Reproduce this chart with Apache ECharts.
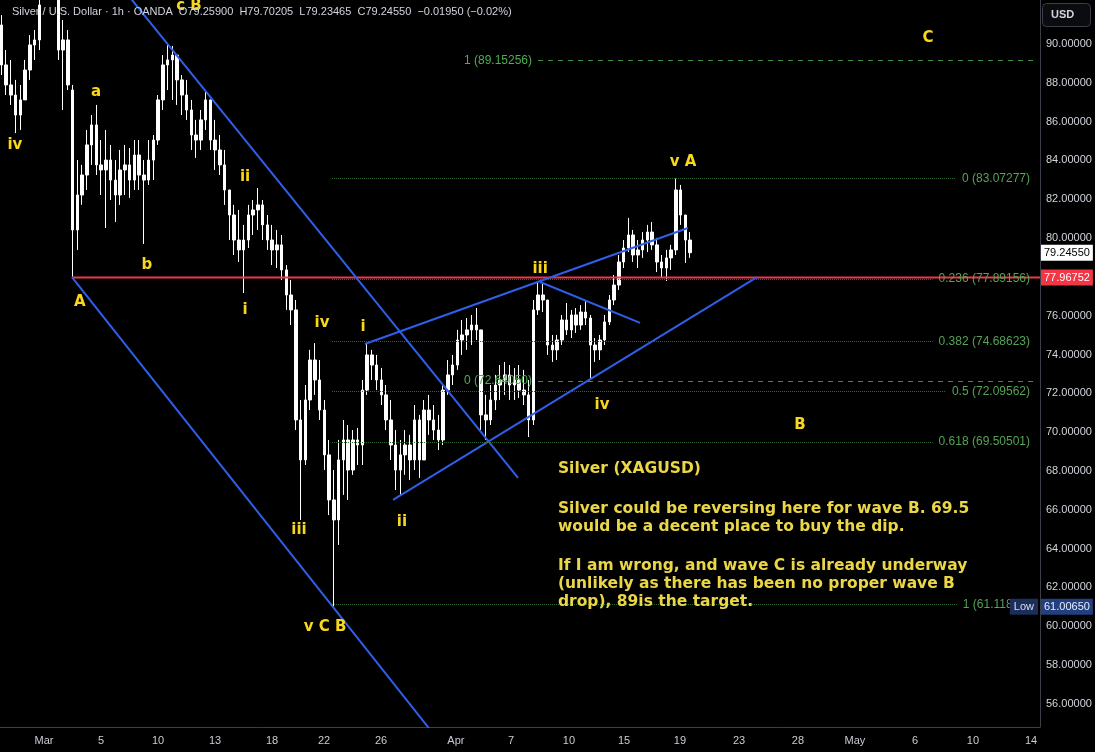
<!DOCTYPE html>
<html><head><meta charset="utf-8">
<script src="https://cdn.jsdelivr.net/npm/echarts@6/dist/echarts.min.js"></script>
<style>html,body{margin:0;padding:0;background:#000;}#c{width:1095px;height:752px;}</style>
</head><body><div id="c"></div>
<script>
// ---- time axis (trading-day units, Mar 2 session = 0) ----
const firstBarDay = -2.25;
const barStep = 0.25;
const dayTicks = [0, 3.0, 6.0, 9.0, 12.0, 14.74, 17.74, 21.68, 24.58, 27.63, 30.53, 33.47, 36.58, 39.68, 42.68, 45.84, 48.89, 51.95];
const dayTickLabels = ['Mar','5','10','13','18','22','26','Apr','7','10','15','19','23','28','May','6','10','14'];
const priceTicks = [56,58,60,62,64,66,68,70,72,74,76,80,82,84,86,88,90];

// ---- price bars [open, close, low, high] ----
const ohlc = [
[90.98,88.92,88.40,91.49],[88.92,87.89,87.37,89.69],[87.89,87.37,86.86,89.18],[87.37,86.34,85.41,88.15],
[86.34,87.12,85.57,87.89],[87.12,88.66,87.12,89.18],[88.66,89.95,88.15,90.46],[89.95,90.21,89.18,90.72],
[90.21,92.01,89.69,93.00],[92.60,93.40,92.40,94.00],[93.40,93.00,92.60,94.50],[93.00,92.50,92.30,93.80],
[92.40,89.69,89.18,92.60],[89.69,90.21,86.60,91.24],[90.21,87.89,87.63,90.72],[87.63,80.42,77.97,87.89],
[80.42,82.22,79.39,84.02],[82.22,83.25,81.71,83.77],[83.25,84.80,82.48,85.57],[84.80,85.83,83.77,86.34],
[85.83,83.77,83.25,86.86],[83.77,83.51,82.22,85.05],[83.51,84.02,80.52,85.57],[84.02,82.99,81.96,84.80],
[82.99,82.22,80.83,84.02],[82.22,83.51,81.71,84.54],[83.51,83.77,82.22,84.80],[83.77,82.99,82.07,84.64],
[82.99,84.28,82.48,85.05],[84.28,83.25,82.48,85.05],[83.25,82.99,79.70,84.02],[82.99,84.02,82.74,85.05],
[84.02,85.05,82.99,85.31],[85.05,87.12,84.80,87.37],[87.12,88.92,86.60,89.43],[88.92,89.18,87.63,89.95],
[89.18,89.43,87.12,89.90],[89.43,88.15,86.86,89.43],[88.15,87.37,86.34,88.40],[87.37,86.60,86.09,88.15],
[86.60,85.31,84.54,87.12],[85.31,85.05,84.13,86.09],[85.05,86.09,84.54,86.60],[86.09,87.12,85.57,87.53],
[87.12,85.05,84.54,87.12],[85.05,84.54,83.51,86.09],[84.54,83.77,83.25,85.31],[83.77,82.48,81.71,84.54],
[82.48,81.19,79.90,82.48],[81.19,79.90,79.13,81.71],[79.90,79.39,78.77,81.45],[79.39,79.90,77.17,80.68],
[79.90,81.19,79.49,81.71],[81.19,81.45,80.16,81.96],[81.45,81.71,80.42,82.58],[81.71,80.68,79.90,81.96],
[80.68,79.90,79.39,81.19],[79.90,79.39,78.61,80.68],[79.39,79.65,78.46,80.42],[79.65,78.36,77.84,80.16],
[78.36,77.07,76.30,78.61],[77.07,76.30,75.52,77.84],[76.30,70.63,70.11,76.81],[70.63,68.57,65.48,71.66],
[68.57,71.66,68.31,72.43],[71.66,73.72,71.14,74.24],[73.72,72.69,71.92,74.59],[72.69,71.14,70.63,73.72],
[71.14,68.83,68.05,71.66],[68.83,66.51,65.73,69.60],[66.51,65.48,61.01,68.05],[65.48,68.57,64.19,69.60],
[68.57,69.60,66.77,70.63],[69.60,68.05,66.51,70.37],[68.05,69.60,67.80,70.11],[69.60,69.34,68.31,70.22],
[69.34,72.17,68.31,72.69],[72.17,73.98,71.92,74.59],[73.98,73.46,72.69,74.24],[73.46,72.69,72.17,73.98],
[72.69,71.92,71.40,73.31],[71.92,70.63,70.11,72.43],[70.63,69.34,68.57,71.66],[69.34,68.05,67.02,70.11],
[68.05,68.83,66.77,69.60],[68.83,69.34,67.80,70.11],[69.34,68.57,67.54,69.86],[68.57,70.63,68.05,71.40],
[70.63,68.57,67.64,70.89],[68.57,71.14,68.57,71.66],[71.14,70.63,69.86,71.92],[70.63,70.11,69.60,71.40],
[70.11,69.60,69.08,70.89],[69.60,72.17,69.34,72.43],[72.17,72.95,71.92,73.72],[72.95,73.46,72.43,73.98],
[73.46,74.75,73.21,75.27],[74.75,75.01,73.98,75.78],[75.01,75.27,74.24,75.88],[75.27,75.52,74.49,76.04],
[75.52,75.27,74.75,76.40],[75.27,70.89,70.11,75.27],[70.89,70.63,69.60,71.92],[70.63,71.66,70.37,72.43],
[71.66,72.43,71.14,72.95],[72.43,72.69,71.66,73.46],[72.69,72.95,71.92,73.62],[72.95,72.43,71.66,73.46],
[72.43,72.69,71.66,73.31],[72.69,72.17,71.76,73.46],[72.17,71.92,71.40,73.21],[71.92,70.63,69.75,72.69],
[70.63,76.30,70.37,76.81],[76.30,77.07,76.04,77.69],[77.07,76.81,76.19,77.74],[76.81,74.49,73.98,76.81],
[74.49,74.24,73.62,75.01],[74.24,74.75,73.72,75.01],[74.75,75.78,74.49,76.04],[75.78,75.27,75.01,76.66],
[75.27,76.04,74.85,76.30],[76.04,75.52,75.11,76.40],[75.52,76.19,75.27,76.55],[76.19,75.88,75.52,76.76],
[75.88,74.49,72.69,76.04],[74.49,74.24,73.62,74.85],[74.24,74.75,73.72,75.01],[74.75,75.68,74.49,76.04],
[75.68,76.81,75.52,77.07],[76.81,77.58,76.55,78.10],[77.58,78.77,77.33,79.13],[78.77,79.49,78.46,79.90],
[79.49,80.16,79.28,81.04],[80.16,79.13,78.77,80.42],[79.13,79.39,78.46,79.90],[79.39,79.90,78.98,80.31],
[79.90,80.31,79.28,80.68],[80.31,79.65,79.39,80.83],[79.65,78.77,78.25,80.01],[78.77,78.46,77.94,79.13],
[78.46,78.98,77.79,79.39],[78.98,79.39,78.36,79.65],[79.39,82.48,79.13,83.07],[82.48,81.19,80.68,82.74],
[81.19,79.90,78.72,80.93],[79.90,79.2455,78.98,80.31]
];

// ---- levels ----
const lastPrice = 79.24550;
const keyLevel = 77.96752;
const lowPrice = 61.00650;
const keyLevelStartDay = 1.47;
const fibRatios = ['0','0.236','0.382','0.5','0.618','1'];
const fibPrices = [83.07277, 77.89156, 74.68623, 72.09562, 69.50501, 61.11847];
const fibStartDay = 15.16;
const extRatios = ['1','0'];
const extPrices = [89.15256, 72.64050];
const extStartDay = 26.0;

// ---- drawings (day, price) ----
const trendLines = [
  [[3.78,93.30],[24.95,67.64]],
  [[1.47,77.99],[20.42,54.55]],
  [[16.89,74.54],[33.89,80.52]],
  [[18.37,66.51],[37.53,77.99]],
  [[26.11,77.74],[31.37,75.63]]
];
const waveLabels = [
  ['iv',-1.53,84.80],['a',2.74,87.53],['b',5.42,78.62],['A',1.89,76.71],['c B',7.63,91.96],
  ['ii',10.58,83.15],['i',10.58,76.30],['iv',14.63,75.60],['iii',13.42,64.96],['v C B',14.79,59.96],
  ['i',16.79,75.42],['ii',18.84,65.37],['iii',26.11,78.41],['iv',29.37,71.40],['v A',33.63,83.92],
  ['B',39.79,70.37],['C',46.53,90.31]
];
const noteTitle = 'Silver (XAGUSD)';
const noteP1 = 'Silver could be reversing here for wave B. 69.5\nwould be a decent place to buy the dip.';
const noteP2 = 'If I am wrong, and wave C is already underway\n(unlikely as there has been no proper wave B\ndrop), 89is the target.';
const noteAnchors = [[27.05,68.57],[27.05,66.50],[27.05,63.57]];

// ---- layout ----
const xMin = -2.3158, xMax = 52.421, yMin = 54.81, yMax = 92.267;
const gridRight = 55, plotW = 1095 - gridRight;
const pxToDay = px => xMin + px / plotW * (xMax - xMin);
const yellow = '#f8d71c';
const noteColor = '#ead646';

const measure = document.createElement('canvas').getContext('2d');
measure.font = '12px "Liberation Sans"';

const fibLines = fibPrices.map((p, i) => {
  const txt = fibRatios[i] + ' (' + p.toFixed(5) + ')';
  const w = measure.measureText(txt).width;
  return [
    {coord: [fibStartDay, p]},
    {coord: [pxToDay(1030 - w - 6), p], label: {formatter: txt}}
  ];
});
const extLines = extPrices.map((p, i) => [
  {coord: [extStartDay, p], label: {formatter: extRatios[i] + ' (' + p.toFixed(5) + ')'}},
  {coord: [pxToDay(1036), p]}
]);

const chart = echarts.init(document.getElementById('c'), null, {renderer: 'canvas'});
const series = [];

series.push({
  type: 'line', data: [], z: 1, silent: true,
  markLine: {
    silent: true, symbol: ['none','none'], animation: false,
    lineStyle: {type: 'dotted', color: '#2f6a31', width: 1},
    label: {show: true, position: 'end', distance: 6, color: '#55a355', fontSize: 12, fontFamily: 'Liberation Sans'},
    data: fibLines
  }
});
series.push({
  type: 'line', data: [], z: 1, silent: true,
  markLine: {
    silent: true, symbol: ['none','none'], animation: false,
    lineStyle: {type: [5, 5], color: '#3f8f43', width: 1},
    label: {show: true, position: 'start', distance: 6, color: '#4caf50', fontSize: 12, fontFamily: 'Liberation Sans'},
    data: extLines
  }
});

series.push({
  type: 'candlestick', z: 3, clip: true, barWidth: 3,
  dimensions: ['t','open','close','low','high'],
  encode: {x: 0, y: [1,2,3,4]},
  data: ohlc.map((r, i) => [firstBarDay + i * barStep, r[0], r[1], r[2], r[3]]),
  itemStyle: {color: '#ffffff', color0: '#ffffff', borderColor: '#ffffff', borderColor0: '#ffffff', borderWidth: 1},
  markLine: {
    silent: true, symbol: ['none','none'], animation: false,
    lineStyle: {color: 'rgba(0,0,0,0)', width: 0},
    data: [
      {yAxis: lastPrice, label: {show: true, position: 'end', distance: 1, formatter: lastPrice.toFixed(5),
        backgroundColor: '#ffffff', color: '#000000', padding: [3,3,2,3], fontSize: 11, fontFamily: 'Liberation Sans'}},
      {yAxis: keyLevel, label: {show: true, position: 'end', distance: 1, formatter: keyLevel.toFixed(5),
        backgroundColor: '#f23645', color: '#ffffff', padding: [3,3,2,3], fontSize: 11, fontFamily: 'Liberation Sans'}},
      {yAxis: lowPrice, label: {show: true, position: 'end', distance: 1, formatter: lowPrice.toFixed(5),
        backgroundColor: '#22407f', color: '#e8ecf5', padding: [3,3,2,3], fontSize: 11, fontFamily: 'Liberation Sans'}}
    ]
  },
  markPoint: {
    silent: true, animation: false, symbol: 'circle', symbolSize: 0,
    data: [{coord: [xMax, lowPrice], label: {show: true, position: 'left', distance: 2, formatter: 'Low',
      backgroundColor: '#1b2e5c', color: '#d8deea', padding: [3,4,2,4], fontSize: 11, fontFamily: 'Liberation Sans'}}]
  }
});

series.push({
  type: 'line', z: 4, silent: true, showSymbol: false, clip: true,
  data: [[keyLevelStartDay, keyLevel], [xMax, keyLevel]],
  lineStyle: {color: '#f23645', width: 2}
});
trendLines.forEach(seg => series.push({
  type: 'line', z: 4, silent: true, showSymbol: false, clip: true,
  data: seg, lineStyle: {color: '#2f5fe8', width: 2}
}));

series.push({
  type: 'scatter', z: 6, silent: true, symbolSize: 1,
  itemStyle: {color: 'rgba(0,0,0,0)'},
  label: {show: true, position: 'inside', formatter: '{b}', color: yellow, opacity: 1, fontSize: 15, fontWeight: 'bold', fontFamily: 'DejaVu Sans'},
  data: waveLabels.map(w => ({name: w[0], value: [w[1], w[2]]}))
});
series.push({
  type: 'scatter', z: 6, silent: true, symbolSize: 1,
  itemStyle: {color: 'rgba(0,0,0,0)'},
  label: {show: true, position: 'inside', align: 'left', verticalAlign: 'top', formatter: '{b}', opacity: 1,
    color: noteColor, fontSize: 15.5, lineHeight: 18, fontWeight: 'bold', fontFamily: 'DejaVu Sans'},
  data: [noteTitle, noteP1, noteP2].map((t, i) => ({name: t, value: noteAnchors[i]}))
});

chart.setOption({
  backgroundColor: '#000000',
  animation: false,
  grid: {left: 0, right: gridRight, top: 0, bottom: 25},
  xAxis: {
    type: 'value', min: xMin, max: xMax,
    axisLine: {show: true, onZero: false, lineStyle: {color: '#3b3f48'}},
    axisTick: {show: false}, splitLine: {show: false},
    axisLabel: {
      customValues: dayTicks, color: '#c9ccd4', fontSize: 11, margin: 8, fontFamily: 'Liberation Sans',
      formatter: v => { const i = dayTicks.findIndex(t => Math.abs(t - v) < 1e-6); return i >= 0 ? dayTickLabels[i] : ''; }
    }
  },
  yAxis: {
    type: 'value', position: 'right', min: yMin, max: yMax,
    axisLine: {show: true, onZero: false, lineStyle: {color: '#3b3f48'}},
    axisTick: {show: false}, splitLine: {show: false},
    axisLabel: {customValues: priceTicks, color: '#d1d4dc', fontSize: 11, margin: 6, fontFamily: 'Liberation Sans',
      formatter: v => v.toFixed(5)}
  },
  graphic: [
    {type: 'text', left: 12, top: 6, z: 10, style: {
      text: 'Silver / U.S. Dollar · 1h · OANDA  O79.25900  H79.70205  L79.23465  C79.24550  \u22120.01950 (\u22120.02%)',
      fill: '#d1d4dc', font: '11px "Liberation Sans"'}},
    {type: 'rect', left: 1042, top: 3, z: 10, shape: {width: 48, height: 23, r: 4},
      style: {fill: '#0b0c10', stroke: '#3a3e48', lineWidth: 1}},
    {type: 'text', left: 1051, top: 9, z: 11, style: {text: 'USD', fill: '#d1d4dc', font: 'bold 11px "Liberation Sans"'}}
  ],
  series: series
});
</script>
</body></html>
